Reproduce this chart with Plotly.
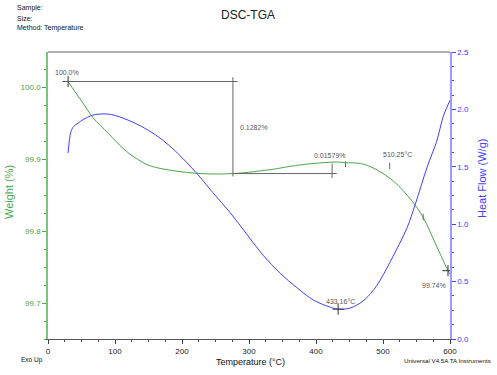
import plotly.graph_objects as go

# ---- data ----
temp_weight = [30, 40, 50, 67, 90, 112, 130, 152, 187, 227, 276, 336, 361, 396,
               430, 446, 466, 485, 515, 543, 560, 580, 597, 600]
weight = [100.008, 99.994, 99.981, 99.958, 99.936, 99.915, 99.902, 99.891, 99.884,
          99.880, 99.880, 99.886, 99.890, 99.894, 99.896, 99.895, 99.894, 99.888,
          99.870, 99.842, 99.819, 99.779, 99.745, 99.740]

temp_heat = [30, 34, 38, 45, 52, 67, 80, 95, 118, 140, 160, 180, 200, 227, 246, 272, 297,
             321, 346, 372, 396, 420, 433, 451, 470, 485, 496, 515, 536, 548, 566,
             580, 590, 597, 600]
heat = [1.62, 1.80, 1.85, 1.88, 1.91, 1.95, 1.96, 1.955, 1.91, 1.85, 1.78, 1.69, 1.58, 1.41,
        1.275, 1.10, 0.91, 0.73, 0.575, 0.445, 0.34, 0.28, 0.26, 0.27, 0.33, 0.42,
        0.515, 0.72, 0.97, 1.17, 1.50, 1.72, 1.94, 2.04, 2.08]

x_ticks = [0, 100, 200, 300, 400, 500, 600]
w_ticks = [99.7, 99.8, 99.9, 100.0]
h_ticks = [0.0, 0.5, 1.0, 1.5, 2.0, 2.5]

# analysis results
step_start = (30, 100.008)
step_mid_T = 276
step_end = (428, 99.880)
step_label = "0.1282%"
start_label = "100.0%"
end_point = (597, 99.745)
end_label = "99.74%"
bump_point = (444, 99.894)
bump_label = "0.01579%"
onset_point = (510, 99.891)
onset_label = "510.25°C"
inflect_point = (560, 99.819)
peak_point = (433, 0.26)
peak_label = "433.16°C"

GREEN = "#4aa64a"
BLUE = "#4040ff"
ANN = "#555555"
FONT = "Liberation Sans, Arial, sans-serif"

fig = go.Figure()
fig.add_trace(go.Scatter(x=temp_weight, y=weight, mode="lines", line=dict(color=GREEN, width=1, shape="spline"),
                         yaxis="y", showlegend=False, hoverinfo="skip"))
fig.add_trace(go.Scatter(x=temp_heat, y=heat, mode="lines", line=dict(color=BLUE, width=1, shape="spline"),
                         yaxis="y2", showlegend=False, hoverinfo="skip"))

# cross markers
fig.add_trace(go.Scatter(x=[step_start[0], end_point[0]], y=[step_start[1], end_point[1]], mode="markers",
                         marker=dict(symbol="cross-thin", size=8, line=dict(color="#333333", width=1)),
                         yaxis="y", showlegend=False, hoverinfo="skip"))
fig.add_trace(go.Scatter(x=[peak_point[0]], y=[peak_point[1]], mode="markers",
                         marker=dict(symbol="cross-thin", size=8, line=dict(color="#333333", width=1)),
                         yaxis="y2", showlegend=False, hoverinfo="skip"))

shapes = []
def seg(x0, y0, x1, y1, yref="y", color="#666666"):
    shapes.append(dict(type="line", xref="x", yref=yref, x0=x0, y0=y0, x1=x1, y1=y1,
                       line=dict(color=color, width=1)))

# step analysis lines
seg(step_start[0] - 5, step_start[1], step_mid_T + 7, step_start[1])
seg(step_mid_T, step_start[1] + 0.006, step_mid_T, step_end[1] - 0.004)
seg(step_mid_T, step_end[1], step_end[0] + 3, step_end[1])
seg(step_end[0] - 4, step_end[1] + 0.014, step_end[0] - 4, step_end[1] - 0.006)
# small ticks
seg(bump_point[0], bump_point[1] + 0.003, bump_point[0], bump_point[1] - 0.005)
seg(onset_point[0], onset_point[1] + 0.004, onset_point[0], onset_point[1] - 0.005)
seg(inflect_point[0], inflect_point[1] + 0.005, inflect_point[0], inflect_point[1] - 0.004)
# top frame
shapes.append(dict(type="line", xref="paper", yref="paper", x0=0, x1=1, y0=1, y1=1,
                   line=dict(color="#999999", width=1.5)))

anns = []
def txt(x, y, s, yref="y", xanchor="center", size=7, color=ANN, xref="x", **kw):
    anns.append(dict(x=x, y=y, xref=xref, yref=yref, text=s, showarrow=False, xanchor=xanchor,
                     yanchor="middle", font=dict(size=size, color=color, family=FONT), **kw))

txt(28, 100.021, start_label)
txt(284, 99.944, step_label, xanchor="left")
txt(421, 99.905, bump_label)
txt(522, 99.907, onset_label)
txt(576, 99.724, end_label)
txt(436, 0.33, peak_label, yref="y2")

# page texts
def ptxt(x, y, s, size=8, xanchor="left", color="#111111", textangle=0):
    anns.append(dict(x=x, y=y, xref="paper", yref="paper", text=s, showarrow=False,
                     xanchor=xanchor, yanchor="middle", textangle=textangle,
                     font=dict(size=size, color=color, family=FONT)))

W, H = 497, 375
L, R, T, B = 48, 47, 52, 36
pw, ph = W - L - R, H - T - B
def px(xp): return (xp - L) / pw
def py(yp): return (H - B - yp) / ph

ptxt(px(15), py(8), "Sample:", size=7)
ptxt(px(15), py(18), "Size:", size=7)
ptxt(px(15), py(28), "Method: Temperature", size=7)
ptxt(px(248), py(15), "DSC-TGA", size=12, xanchor="center", color="#222222")
ptxt(px(19), py(360), "Exo Up", size=6.5)
ptxt(px(250), py(362), "Temperature (°C)", size=9, xanchor="center")
ptxt(px(493), py(360), "Universal V4.5A TA Instruments", size=6.2, xanchor="right")
ptxt(px(9), py(192), "Weight (%)", size=11, xanchor="center", color=GREEN, textangle=-90)
ptxt(px(482), py(179), "Heat Flow (W/g)", size=11, xanchor="center", color=BLUE, textangle=-90)

fig.update_layout(
    width=W, height=H,
    margin=dict(l=L, r=R, t=T, b=B, autoexpand=False),
    paper_bgcolor="white", plot_bgcolor="white",
    shapes=shapes, annotations=anns,
    xaxis=dict(range=[0, 600], tickvals=x_ticks, ticks="outside", ticklen=4, tickcolor="#444444",
               showline=True, linecolor="#555555", linewidth=1, showgrid=False, zeroline=False,
               tickfont=dict(size=8, color="#222222", family=FONT),
               minor=dict(dtick=25, ticks="outside", ticklen=2, tickcolor="#444444"), automargin=False),
    yaxis=dict(range=[99.65, 100.049], tickvals=w_ticks, ticktext=[f"{v:.1f}" for v in w_ticks],
               ticks="outside", ticklen=4, tickcolor=GREEN,
               showline=True, linecolor="#7cc47c", linewidth=1.5, showgrid=False, zeroline=False,
               tickfont=dict(size=8, color=GREEN, family=FONT),
               minor=dict(dtick=0.025, tick0=99.7, ticks="outside", ticklen=2, tickcolor=GREEN),
               automargin=False),
    yaxis2=dict(range=[0, 2.5], tickvals=h_ticks, ticktext=[f"{v:.1f}" for v in h_ticks],
                overlaying="y", side="right", ticks="outside", ticklen=4, tickcolor=BLUE,
                showline=True, linecolor="#9a9aff", linewidth=1.5, showgrid=False, zeroline=False,
                tickfont=dict(size=8, color=BLUE, family=FONT),
                minor=dict(dtick=0.125, ticks="outside", ticklen=2, tickcolor=BLUE),
                automargin=False),
)

fig.write_html("out.html", config={"displayModeBar": False},
               post_script="document.body.style.margin='0';document.body.style.overflow='hidden';")
